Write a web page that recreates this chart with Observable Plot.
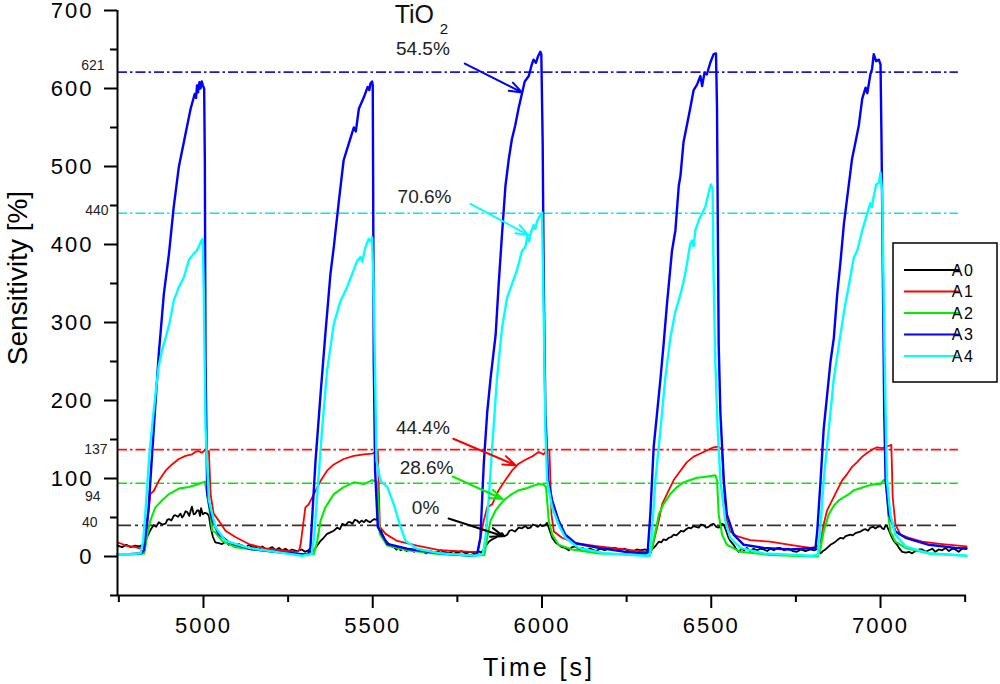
<!DOCTYPE html>
<html>
<head>
<meta charset="utf-8">
<script src="https://cdn.jsdelivr.net/npm/d3@7"></script>
<script src="https://cdn.jsdelivr.net/npm/@observablehq/plot@0.6"></script>
<style>
  body { margin: 0; background: #fff; }
  #grafico { width: 1000px; height: 684px; }
  g[aria-label="x-axis tick label"] text { letter-spacing: 2px; }
  g[aria-label="y-axis tick label"] text { letter-spacing: 2px; }
</style>
</head>
<body>
<div id="grafico"></div>
<script>
// ticks
const xMajor = [5000, 5500, 6000, 6500, 7000]
const xMinor = [4750, 5250, 5750, 6250, 6750, 7250]
const yMajor = [0, 100, 200, 300, 400, 500, 600, 700]
const yMinor = [-50, 50, 150, 250, 350, 450, 550, 650]

// niveles de referencia (dash-dot)
const refValues = [621, 440, 137, 94, 40]
const refLabels = ['621', '440', '137', '94', '40']

// anotaciones
const pctLabels = ['54.5%', '70.6%', '44.4%', '28.6%', '0%']
const pctT = [5648, 5653, 5648, 5659, 5656]
const pctV = [651, 461, 165, 113.5, 62]
const arrowFrom = [[5772, 632], [5789, 452], [5738, 151], [5736, 102.6], [5724, 48.7]]
const arrowTo = [[5941, 595], [5960, 412], [5922, 117], [5883, 73.7], [5886, 25.9]]

// series [tiempo s, sensibilidad %]
const A0 = [
  [4746,14],[4760,12],[4772,15],[4785,12],[4798,14],[4810,13],[4822,15],[4830,22],[4838,29],[4846,36],[4853,40],[4860,38],[4868,44],[4878,41],[4888,42],[4893,47],[4898,48],[4905,46],[4912,52],[4917,53],[4925,51],[4932,55],[4937,50],[4942,53],[4947,58],[4952,57],[4958,52],[4963,60],[4966,64],[4971,54],[4976,55],[4981,59],[4986,59],[4990,52],[4993,62],[4998,54],[5004,56],[5011,55],[5016,52],[5021,38],[5028,25],[5035,18],[5045,17],[5055,16],[5065,19],[5075,15],[5084,17],[5094,12],[5104,16],[5114,14],[5124,11],[5134,15],[5144,12],[5154,12],[5164,9],[5174,13],[5183,10],[5193,10],[5203,12],[5213,8],[5223,11],[5232,8],[5242,10],[5252,7],[5262,9],[5276,7],[5290,9],[5300,6],[5310,8],[5320,5],
  [5326,8],[5336,14],[5346,20],[5355,24],[5365,29],[5375,31],[5385,33],[5395,37],[5403,35],[5410,42],[5420,40],[5427,44],[5434,44],[5440,42],[5447,47],[5454,46],[5460,43],[5467,46],[5474,44],[5480,47],[5487,45],[5492,44],[5498,46],[5505,48],[5511,47],[5515,50],[5520,40],[5528,29],[5535,22],[5543,18],[5552,14],[5562,12],[5570,9],[5578,12],[5582,8],[5592,10],[5600,7],[5610,9],[5622,6],[5632,9],[5645,7],[5658,4],[5670,7],[5685,5],[5700,8],[5712,6],[5725,4],[5738,7],[5750,5],[5762,7],[5775,4],[5788,6],[5800,4],[5812,7],[5820,5],
  [5828,9],[5835,14],[5843,19],[5853,22],[5863,24],[5872,28],[5882,30],[5889,26],[5897,28],[5904,33],[5911,34],[5920,32],[5931,37],[5940,36],[5951,39],[5958,36],[5966,37],[5973,41],[5980,40],[5988,38],[5995,41],[6000,39],[6008,40],[6015,43],[6020,37],[6030,24],[6040,18],[6049,15],[6059,12],[6069,11],[6079,8],[6089,12],[6099,13],[6110,9],[6120,11],[6130,8],[6140,10],[6148,9],[6160,7],[6172,10],[6185,8],[6200,11],[6216,11],[6230,8],[6245,10],[6256,7],[6266,6],[6280,9],[6292,8],[6305,9],[6315,7],[6322,9],
  [6330,11],[6338,15],[6345,19],[6352,18],[6359,22],[6367,21],[6374,24],[6382,25],[6389,28],[6397,27],[6404,30],[6411,33],[6418,32],[6426,35],[6433,37],[6440,36],[6448,39],[6455,38],[6463,37],[6470,41],[6478,40],[6485,37],[6492,38],[6500,41],[6507,42],[6515,38],[6522,37],[6530,42],[6537,41],[6544,33],[6551,24],[6558,19],[6566,15],[6573,10],[6581,6],[6590,10],[6597,8],[6605,11],[6615,7],[6625,10],[6635,8],[6645,10],[6655,9],[6665,7],[6675,10],[6685,8],[6695,11],[6704,11],[6715,8],[6728,10],[6740,7],[6753,6],[6765,9],[6778,7],[6793,9],[6805,8],[6815,10],
  [6823,4],[6830,7],[6837,9],[6845,12],[6852,15],[6860,17],[6867,19],[6875,22],[6882,24],[6890,23],[6897,26],[6904,27],[6911,28],[6918,27],[6926,30],[6933,31],[6941,32],[6948,34],[6956,35],[6963,33],[6970,37],[6978,38],[6985,36],[6992,38],[7000,39],[7005,36],[7010,35],[7015,40],[7019,39],[7025,33],[7034,24],[7041,19],[7049,15],[7056,10],[7064,6],[7075,5],[7084,6],[7093,4],[7103,7],[7113,9],[7123,9],[7133,6],[7143,8],[7153,10],[7162,6],[7172,9],[7182,8],[7192,11],[7202,7],[7212,10],[7221,9],[7231,6],[7241,10],[7254,11]
]
const A1 = [
  [4746,18],[4760,16],[4770,14],[4785,13],[4799,12],[4814,10],[4825,20],[4833,38],[4843,80],[4853,84],[4868,97],[4888,110],[4907,118],[4927,125],[4947,129],[4966,131],[4976,134],[4986,135],[4995,133],[5006,137],[5016,135],[5021,80],[5030,55],[5045,46],[5065,33],[5094,25],[5134,16],[5183,10],[5232,8],[5276,6],[5283,8],
  [5287,16],[5301,63],[5311,67],[5326,80],[5346,97],[5365,110],[5385,118],[5414,125],[5444,129],[5474,131],[5498,132],[5510,134],[5515,135],[5521,38],[5538,29],[5572,20],[5631,14],[5700,8],[5789,6],[5810,6],
  [5818,24],[5828,46],[5838,63],[5853,67],[5872,85],[5892,98],[5911,110],[5931,119],[5951,124],[5970,128],[5990,134],[6005,131],[6015,137],[6022,136],[6028,54],[6035,32],[6059,24],[6099,17],[6167,13],[6246,9],[6305,6],
  [6322,5],[6330,19],[6345,46],[6355,67],[6369,80],[6389,98],[6409,110],[6428,121],[6448,128],[6468,132],[6487,136],[6507,140],[6522,141],[6532,136],[6539,76],[6546,46],[6556,32],[6576,26],[6615,21],[6674,19],[6733,15],[6793,11],
  [6815,13],[6823,19],[6832,41],[6842,59],[6857,72],[6872,85],[6887,98],[6902,106],[6916,115],[6931,121],[6946,128],[6961,133],[6975,137],[6990,140],[7005,139],[7019,141],[7032,143],[7036,76],[7044,41],[7059,28],[7084,24],[7123,19],[7182,16],[7254,13]
]
const A2 = [
  [4746,3],[4800,3],[4825,4],[4833,25],[4843,46],[4858,63],[4878,72],[4898,80],[4927,87],[4957,89],[4986,93],[5004,96],[5011,80],[5021,50],[5026,33],[5035,31],[5055,20],[5094,12],[5183,7],[5281,3],
  [5326,3],[5336,20],[5346,46],[5360,63],[5385,80],[5414,89],[5444,95],[5474,93],[5490,96],[5498,98],[5513,95],[5521,29],[5543,14],[5601,8],[5700,3],[5800,1],
  [5830,2],[5838,24],[5848,46],[5863,59],[5877,67],[5892,74],[5911,80],[5931,85],[5951,87],[5970,90],[5990,93],[6005,92],[6012,89],[6020,46],[6030,28],[6049,15],[6089,9],[6167,4],[6305,2],
  [6318,1],[6325,11],[6335,32],[6345,54],[6359,67],[6379,80],[6399,89],[6418,95],[6438,98],[6458,101],[6478,102],[6497,103],[6512,104],[6517,98],[6522,54],[6532,28],[6546,15],[6586,6],[6674,2],[6793,0],
  [6815,0],[6823,11],[6832,32],[6847,54],[6862,65],[6877,72],[6892,76],[6907,80],[6921,85],[6936,87],[6951,89],[6966,91],[6985,93],[7000,93],[7010,98],[7017,96],[7023,54],[7029,32],[7044,19],[7074,11],[7143,4],[7254,1]
]
const A3 = [
  [4746,3],[4780,3],[4815,4],[4824,8],[4838,63],[4858,196],[4868,260],[4883,337],[4898,388],[4912,448],[4927,499],[4947,542],[4962,574],[4974,593],[4978,588],[4981,604],[4984,595],[4988,608],[4991,600],[4995,609],[4998,604],[5002,600],[5004,508],[5006,251],[5011,80],[5026,46],[5045,29],[5075,18],[5134,10],[5213,6],[5292,3],[5308,2],
  [5316,12],[5331,123],[5346,209],[5360,285],[5375,362],[5385,397],[5400,456],[5414,508],[5429,529],[5444,550],[5450,545],[5459,574],[5474,589],[5485,602],[5490,598],[5493,606],[5498,609],[5500,604],[5501,500],[5503,250],[5507,110],[5515,38],[5543,16],[5601,10],[5700,4],[5794,1],[5808,2],
  [5818,24],[5828,119],[5838,184],[5848,228],[5863,284],[5872,349],[5882,414],[5892,475],[5902,510],[5911,535],[5921,553],[5931,575],[5941,594],[5949,609],[5961,616],[5970,631],[5975,637],[5982,633],[5988,641],[5995,647],[5998,644],[6002,531],[6005,358],[6010,184],[6018,98],[6030,72],[6049,46],[6069,28],[6099,17],[6167,11],[6246,6],[6305,4],[6312,5],
  [6320,54],[6330,141],[6340,184],[6350,228],[6359,271],[6369,323],[6384,392],[6394,418],[6404,475],[6409,488],[6418,531],[6428,553],[6438,575],[6448,598],[6458,605],[6468,616],[6473,603],[6480,620],[6487,618],[6497,633],[6507,644],[6514,645],[6517,575],[6519,445],[6522,271],[6527,184],[6537,98],[6546,54],[6566,28],[6596,15],[6655,11],[6733,9],[6808,11],
  [6813,32],[6823,98],[6832,163],[6842,206],[6852,249],[6862,280],[6872,336],[6882,379],[6892,427],[6907,479],[6916,510],[6926,531],[6936,553],[6946,587],[6956,601],[6961,594],[6970,618],[6975,625],[6980,644],[6987,635],[6995,637],[7000,631],[7003,531],[7007,358],[7011,184],[7015,98],[7025,54],[7044,32],[7074,24],[7143,15],[7221,11],[7254,10]
]
const A4 = [
  [4746,3],[4790,3],[4814,4],[4822,20],[4829,60],[4840,130],[4850,175],[4860,215],[4868,245],[4878,265],[4888,280],[4900,300],[4912,328],[4927,345],[4942,358],[4957,380],[4971,388],[4980,392],[4986,397],[4994,405],[4998,407],[5001,337],[5006,166],[5016,72],[5035,38],[5065,20],[5134,11],[5213,6],[5291,1],
  [5320,3],[5328,30],[5336,80],[5351,166],[5365,238],[5385,298],[5405,328],[5424,345],[5439,362],[5454,379],[5464,384],[5469,378],[5478,396],[5488,407],[5494,404],[5498,409],[5503,337],[5511,123],[5523,97],[5543,89],[5562,67],[5582,38],[5597,20],[5631,10],[5700,4],[5800,1],
  [5825,3],[5833,24],[5843,76],[5853,141],[5867,228],[5882,293],[5897,332],[5911,349],[5926,367],[5941,392],[5951,397],[5956,410],[5962,404],[5966,414],[5975,425],[5980,420],[5985,429],[5995,438],[6000,441],[6005,314],[6010,163],[6015,98],[6030,63],[6049,41],[6069,24],[6108,11],[6187,4],[6305,1],
  [6318,1],[6325,32],[6335,98],[6350,163],[6364,228],[6379,280],[6394,314],[6409,336],[6423,362],[6438,401],[6443,405],[6448,398],[6453,418],[6463,431],[6473,440],[6483,449],[6492,466],[6499,477],[6504,471],[6507,358],[6512,249],[6519,163],[6527,98],[6541,46],[6556,24],[6586,11],[6655,4],[6793,1],
  [6815,2],[6823,41],[6832,98],[6847,163],[6862,228],[6877,271],[6892,314],[6907,349],[6921,383],[6931,392],[6946,418],[6961,440],[6970,453],[6975,448],[6980,462],[6987,477],[6995,479],[7000,492],[7005,466],[7010,314],[7015,184],[7019,98],[7029,54],[7044,28],[7074,13],[7143,4],[7254,1]
]

/* estilos */
const seriesNames = ['A0', 'A1', 'A2', 'A3', 'A4']
const seriesData = [A0, A1, A2, A3, A4]
const seriesColor = ['#000000', '#ff0000', '#00ee00', '#0000ff', '#00ffff']
const seriesWidth = [1.8, 1.8, 2.1, 2.4, 2.4]
const refColor = ['#1a1ad6', '#00e8f0', '#ff1010', '#10e010', '#333333']
const refLabelDx = [-13, -9, -10, -17, -20]
const refLabelDy = [-6.5, -3, 0, 13, -3]
const xDomain = [4746, 7254]
const yDomain = [-50, 700]
const font = '"Liberation Sans", Arial, sans-serif'

const refRows = refValues.map((v, i) => ({v, label: refLabels[i], color: refColor[i]}))
const pctRows = pctLabels.map((s, i) => ({t: pctT[i], v: pctV[i], s}))
const arrowRows = arrowFrom.map((a, i) => ({
  t1: a[0], v1: a[1], t2: arrowTo[i][0], v2: arrowTo[i][1], color: seriesColor[[3, 4, 1, 2, 0][i]]
}))

let chart = Plot.plot({
  width: 1000,
  height: 684,
  marginLeft: 117,
  marginRight: 34,
  marginTop: 10,
  marginBottom: 89,
  x: {domain: xDomain},
  y: {domain: yDomain},
  style: {fontFamily: font, background: 'white', color: 'black', overflow: 'visible'},
  marks: [
    // lineas de referencia
    Plot.ruleY(refRows.slice(0, 4), {
      y: 'v', x1: xDomain[0], x2: 7230, stroke: 'color',
      strokeWidth: 1.6, strokeDasharray: '10,3,2.5,3'
    }),
    Plot.ruleY(refRows.slice(4), {
      y: 'v', x1: xDomain[0], x2: 7230, stroke: 'color',
      strokeWidth: 1.7, strokeDasharray: '14,4,3,4'
    }),
    ...refRows.map((r, i) => Plot.text([r], {
      x: xDomain[0], y: 'v', text: 'label', textAnchor: 'end',
      dx: refLabelDx[i], dy: refLabelDy[i], fontSize: 14, fill: '#222'
    })),
    // series
    ...seriesData.map((pts, i) => Plot.line(pts.map(([t, v]) => ({t, v})), {
      x: 't', y: 'v', stroke: seriesColor[i], strokeWidth: seriesWidth[i]
    })),
    // anotaciones
    Plot.text(['TiO'], {x: 5623, y: 693.6, text: d => d, fontSize: 25, fill: '#111'}),
    Plot.text(['2'], {x: 5710, y: 676, text: d => d, fontSize: 15, fill: '#111'}),
    Plot.text(pctRows, {x: 't', y: 'v', text: 's', fontSize: 19, fill: '#222'}),
    Plot.arrow(arrowRows, {
      x1: 't1', y1: 'v1', x2: 't2', y2: 'v2', stroke: 'color',
      strokeWidth: 2, headLength: 10, headAngle: 40
    }),
    // ejes
    Plot.axisY({ticks: yMajor, tickSize: 13, tickPadding: 11, fontSize: 22,
      strokeWidth: 2, tickFormat: 'd', label: null}),
    Plot.axisY({ticks: yMinor, tickSize: 7, strokeWidth: 2, fill: 'none', label: null}),
    Plot.axisX({ticks: xMajor, tickSize: 13, tickPadding: 9, fontSize: 22,
      strokeWidth: 2, tickFormat: 'd', label: null}),
    Plot.axisX({ticks: xMinor, tickSize: 7, strokeWidth: 2, fill: 'none', label: null}),
    Plot.ruleX([xDomain[0]], {stroke: 'black', strokeWidth: 2}),
    Plot.ruleY([yDomain[0]], {stroke: 'black', strokeWidth: 2}),
  ],
})

const svg = d3.select(chart)

// titulos de ejes
svg.append('text')
  .attr('transform', 'translate(27,278) rotate(-90)')
  .attr('text-anchor', 'middle')
  .style('font-size', '28px')
  .text('Sensitivity [%]')
svg.append('text')
  .attr('x', 539).attr('y', 676)
  .attr('text-anchor', 'middle')
  .style('font-size', '25px')
  .style('letter-spacing', '3px')
  .text('Time [s]')

// leyenda
const leg = svg.append('g').attr('transform', 'translate(893,243)')
leg.append('rect')
  .attr('width', 104).attr('height', 139)
  .attr('fill', 'white').attr('stroke', 'black').attr('stroke-width', 1.5)
seriesNames.forEach((name, i) => {
  const y = 27 + i * 21.5
  leg.append('line')
    .attr('x1', 11).attr('x2', 66).attr('y1', y).attr('y2', y)
    .attr('stroke', seriesColor[i]).attr('stroke-width', 2)
  leg.append('text')
    .attr('x', 70).attr('y', y).attr('dy', '0.35em')
    .style('font-size', '16px').style('letter-spacing', '1.5px')
    .text(name)
})

d3.select('#grafico').append(() => chart)
</script>
</body>
</html>
